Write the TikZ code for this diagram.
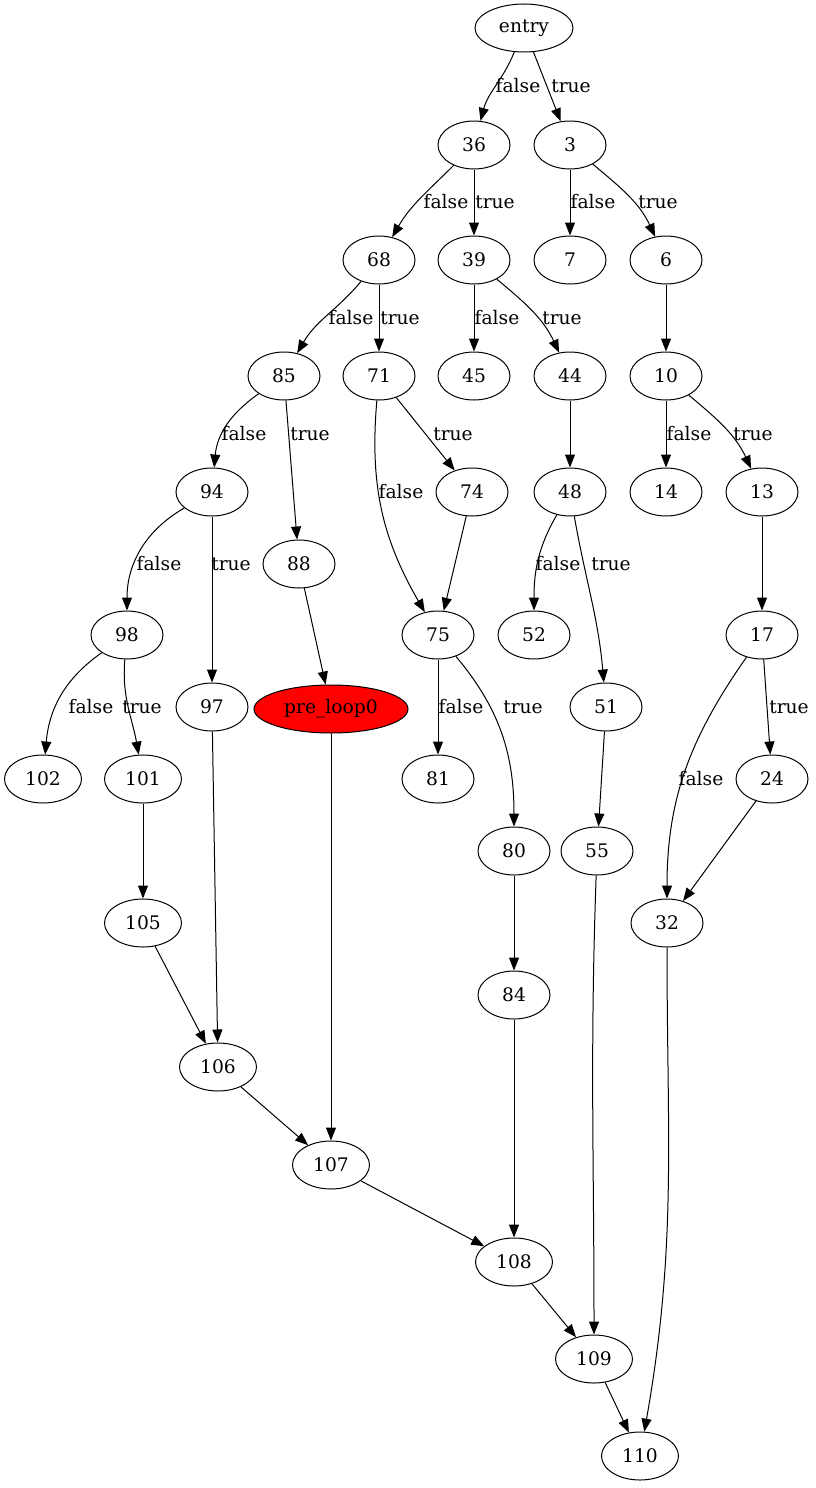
\documentclass[tikz,border=0pt]{standalone}
\usepackage{fontspec}
\setmainfont{DejaVu Serif}
\usetikzlibrary{shapes.geometric,arrows.meta}
\begin{document}
\begin{tikzpicture}[x=1pt,y=1pt,
  every node/.style={font=\fontsize{18.67pt}{20pt}\selectfont},
  blk/.style={ellipse,draw,line width=1pt,minimum width=72pt,minimum height=48pt,inner sep=0pt},
  wide/.style={blk,minimum width=77pt},
  lbl/.style={inner sep=0pt},
  edge/.style={line width=1pt,-{Triangle[length=13pt,width=10pt]}}]
\useasboundingbox (0,0) rectangle (815,-1488);
% blocks
\node[blk,minimum width=98pt] (entry) at (524,-28) {entry};
\node[blk] (n36) at (474,-145) {36};
\node[blk] (n3) at (570,-145) {3};
\node[blk] (n68) at (379,-260) {68};
\node[blk] (n39) at (474,-260) {39};
\node[blk] (n7) at (570,-260) {7};
\node[blk] (n6) at (666,-260) {6};
\node[blk] (n85) at (284,-376) {85};
\node[blk] (n71) at (379,-376) {71};
\node[blk] (n45) at (474,-376) {45};
\node[blk] (n44) at (570,-376) {44};
\node[blk] (n10) at (666,-376) {10};
\node[blk] (n94) at (212,-492) {94};
\node[blk] (n88) at (299,-564) {88};
\node[blk] (n74) at (472,-492) {74};
\node[blk] (n48) at (570,-492) {48};
\node[blk] (n14) at (666,-492) {14};
\node[blk] (n13) at (762,-492) {13};
\node[blk] (n98) at (127,-635) {98};
\node[blk] (n97) at (212,-707) {97};
\node[blk,minimum width=154pt,fill=red] (pre) at (331,-709) {pre\_loop0};
\node[blk] (n75) at (438,-635) {75};
\node[blk] (n52) at (534,-635) {52};
\node[blk] (n17) at (762,-635) {17};
\node[blk] (n51) at (606,-707) {51};
\node[wide] (n102) at (43,-779) {102};
\node[wide] (n101) at (143,-779) {101};
\node[blk] (n81) at (438,-779) {81};
\node[blk] (n24) at (772,-779) {24};
\node[blk] (n80) at (514,-851) {80};
\node[blk] (n55) at (597,-851) {55};
\node[wide] (n105) at (143,-923) {105};
\node[blk] (n32) at (667,-923) {32};
\node[blk] (n84) at (514,-995) {84};
\node[wide] (n106) at (218,-1067) {106};
\node[wide] (n107) at (331,-1165) {107};
\node[wide] (n108) at (514,-1262) {108};
\node[wide] (n109) at (594,-1359) {109};
\node[wide] (n110) at (640,-1456) {110};
% branch labels
\node[lbl] (l1) at (518,-86) {false};
\node[lbl] (l2) at (571,-86) {true};
\node[lbl] (l3) at (446,-202) {false};
\node[lbl] (l4) at (495,-202) {true};
\node[lbl] (l5) at (593,-202) {false};
\node[lbl] (l6) at (658,-202) {true};
\node[lbl] (l7) at (351,-318) {false};
\node[lbl] (l8) at (400,-318) {true};
\node[lbl] (l9) at (497,-318) {false};
\node[lbl] (l10) at (562,-318) {true};
\node[lbl] (l11) at (244,-434) {false};
\node[lbl] (l12) at (310,-434) {true};
\node[lbl] (l13) at (401,-492) {false};
\node[lbl] (l14) at (453,-434) {true};
\node[lbl] (l15) at (689,-434) {false};
\node[lbl] (l16) at (753,-434) {true};
\node[lbl] (l17) at (159,-564) {false};
\node[lbl] (l18) at (231,-564) {true};
\node[lbl] (l19) at (558,-564) {false};
\node[lbl] (l20) at (611,-564) {true};
\node[lbl] (l21) at (91,-707) {false};
\node[lbl] (l22) at (142,-707) {true};
\node[lbl] (l23) at (461,-707) {false};
\node[lbl] (l24) at (523,-707) {true};
\node[lbl] (l25) at (701,-779) {false};
\node[lbl] (l26) at (789,-707) {true};
% edges
\draw[edge] (entry) to[out=-112,in=75] (n36);
\draw[edge] (entry) -- (n3);
\draw[edge] (n36) to[out=-135,in=60] (n68);
\draw[edge] (n36) -- (n39);
\draw[edge] (n3) -- (n7);
\draw[edge] (n3) to[out=-40,in=115] (n6);
\draw[edge] (n68) to[out=-130,in=60] (n85);
\draw[edge] (n68) -- (n71);
\draw[edge] (n39) -- (n45);
\draw[edge] (n39) to[out=-40,in=115] (n44);
\draw[edge] (n6) -- (n10);
\draw[edge] (n85) to[out=-145,in=85] (n94);
\draw[edge] (n85) -- (n88);
\draw[edge] (n71) -- (n74);
\draw[edge] (n71) to[out=-95,in=120] (n75);
\draw[edge] (n44) -- (n48);
\draw[edge] (n10) -- (n14);
\draw[edge] (n10) to[out=-40,in=115] (n13);
\draw[edge] (n94) to[out=-150,in=90] (n98);
\draw[edge] (n94) -- (n97);
\draw[edge] (n88) -- (pre);
\draw[edge] (n74) -- (n75);
\draw[edge] (n48) to[out=-120,in=90] (n52);
\draw[edge] (n48) to[out=-80,in=95] (n51);
\draw[edge] (n13) -- (n17);
\draw[edge] (n98) to[out=-145,in=85] (n102);
\draw[edge] (n98) to[out=-95,in=100] (n101);
\draw[edge] (n75) -- (n81);
\draw[edge] (n75) to[out=-50,in=90] (n80);
\draw[edge] (n17) to[out=-125,in=90] (n32);
\draw[edge] (n17) -- (n24);
\draw[edge] (n51) -- (n55);
\draw[edge] (n97) -- (n106);
\draw[edge] (n101) -- (n105);
\draw[edge] (pre) -- (n107);
\draw[edge] (n80) -- (n84);
\draw[edge] (n105) -- (n106);
\draw[edge] (n55) to[out=-92,in=90] (n109);
\draw[edge] (n24) -- (n32);
\draw[edge] (n32) to[out=-90,in=80] (n110);
\draw[edge] (n106) -- (n107);
\draw[edge] (n107) -- (n108);
\draw[edge] (n84) -- (n108);
\draw[edge] (n108) -- (n109);
\draw[edge] (n109) -- (n110);
\end{tikzpicture}
\end{document}
